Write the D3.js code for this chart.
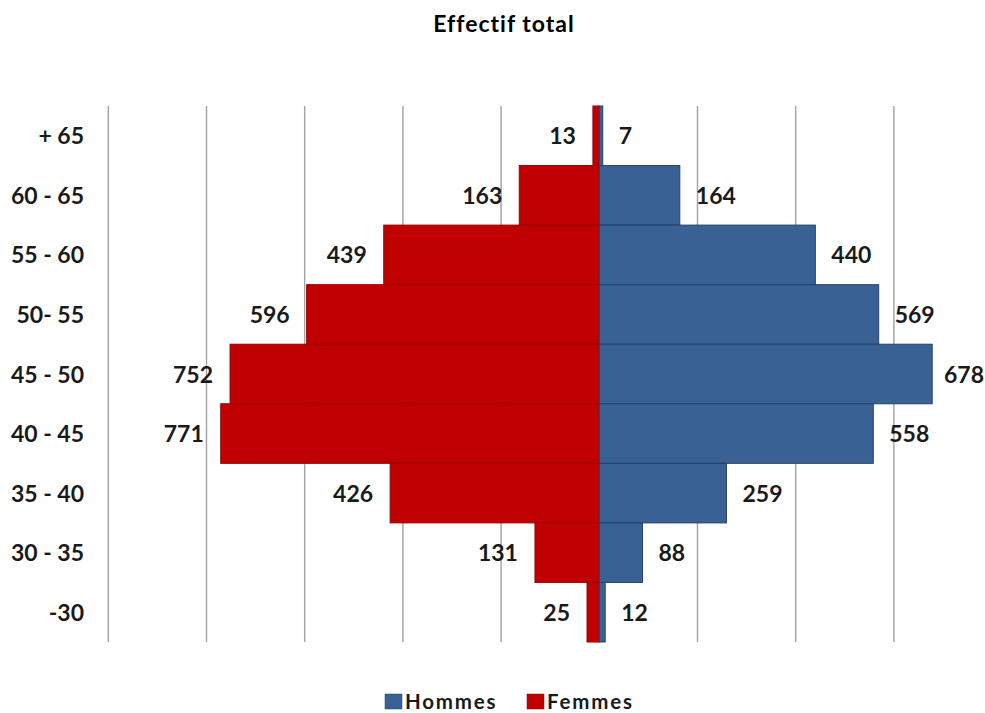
<!DOCTYPE html>
<html>
<head>
<meta charset="utf-8">
<script src="https://cdn.jsdelivr.net/npm/d3@7"></script>
<style>
  html, body { margin: 0; padding: 0; background: #fff; }
  svg { display: block; font-family: Lato, "Open Sans", sans-serif; }
</style>
</head>
<body>
<svg id="chart" width="985" height="713"></svg>
<script>
// Age bands, top to bottom
const ageGroups = ["+ 65", "60 - 65", "55 - 60", "50- 55", "45 - 50", "40 - 45", "35 - 40", "30 - 35", "-30"];
// Headcount per band
const hommes = [7, 164, 440, 569, 678, 558, 259, 88, 12];
const femmes = [13, 163, 439, 596, 752, 771, 426, 131, 25];
// Vertical gridline positions (signed: women to the left)
const gridTicks = [-1000, -800, -600, -400, -200, 0, 200, 400, 600, 800];
const seriesNames = ["Hommes", "Femmes"];

const colors = { Hommes: "#3A6194", Femmes: "#C00000" };
const strokes = { Hommes: "#23416A", Femmes: "#9A0000" };

const W = 985;
const svg = d3.select("#chart");

const x = d3.scaleLinear().domain([-1000, 1000]).range([108.3, 1090.3]);
const y = d3.scaleBand().domain(ageGroups).range([106, 642]).padding(0);

// Title
svg.append("text")
  .attr("x", 504).attr("y", 32)
  .attr("text-anchor", "middle")
  .attr("font-size", 23).attr("font-weight", 700)
  .attr("letter-spacing", 1)
  .attr("fill", "#000")
  .text("Effectif total");

// Gridlines
svg.append("g")
  .selectAll("line")
  .data(gridTicks)
  .join("line")
  .attr("x1", d => x(d)).attr("x2", d => x(d))
  .attr("y1", y.range()[0]).attr("y2", y.range()[1])
  .attr("stroke", "#A6A6A6").attr("stroke-width", 1.5);

// Bars
const rows = ageGroups.map((g, i) => ({ g, h: hommes[i], f: femmes[i] }));

svg.append("g").selectAll("rect")
  .data(rows)
  .join("rect")
  .attr("x", d => x(-d.f))
  .attr("y", d => y(d.g))
  .attr("width", d => x(0) - x(-d.f))
  .attr("height", y.bandwidth())
  .attr("fill", colors.Femmes)
  .attr("stroke", strokes.Femmes).attr("stroke-width", 1);

svg.append("g").selectAll("rect")
  .data(rows)
  .join("rect")
  .attr("x", x(0))
  .attr("y", d => y(d.g))
  .attr("width", d => x(d.h) - x(0))
  .attr("height", y.bandwidth())
  .attr("fill", colors.Hommes)
  .attr("stroke", strokes.Hommes).attr("stroke-width", 1);

// Value labels
const labelFont = 23;
const baselineShift = 8.5;
svg.append("g").selectAll("text")
  .data(rows)
  .join("text")
  .attr("x", d => x(-d.f) - 17)
  .attr("y", d => y(d.g) + y.bandwidth() / 2 + baselineShift)
  .attr("text-anchor", "end")
  .attr("font-size", labelFont).attr("font-weight", 700)
  .attr("fill", "#1a1a1a")
  .text(d => d.f);

svg.append("g").selectAll("text")
  .data(rows)
  .join("text")
  .attr("x", d => x(d.h) + 16)
  .attr("y", d => y(d.g) + y.bandwidth() / 2 + baselineShift)
  .attr("text-anchor", "start")
  .attr("font-size", labelFont).attr("font-weight", 700)
  .attr("fill", "#1a1a1a")
  .text(d => d.h)
  // keep labels inside the drawing area
  .each(function () {
    const w = this.getComputedTextLength();
    const x0 = +this.getAttribute("x");
    if (x0 + w > W - 1) this.setAttribute("x", W - 1 - w);
  });

// Category axis labels
const yAxis = d3.axisLeft(y).tickSize(0).tickPadding(0);
const gy = svg.append("g").attr("transform", "translate(84,0)").call(yAxis);
gy.select(".domain").remove();
gy.selectAll("text")
  .attr("dy", null)
  .attr("y", baselineShift)
  .attr("font-size", 23).attr("font-weight", 700)
  .attr("font-family", "Lato, 'Open Sans', sans-serif")
  .attr("fill", "#1a1a1a");

// Legend
const legend = svg.append("g");
const legendItems = [
  { name: seriesNames[0], x: 385 },
  { name: seriesNames[1], x: 527 }
];
const li = legend.selectAll("g").data(legendItems).join("g")
  .attr("transform", d => `translate(${d.x},694)`);
li.append("rect")
  .attr("width", 17).attr("height", 15)
  .attr("fill", d => colors[d.name])
  .attr("stroke", d => strokes[d.name]).attr("stroke-width", 0.5);
li.append("text")
  .attr("x", 20).attr("y", 15)
  .attr("font-size", 20.5).attr("font-weight", 700)
  .attr("letter-spacing", 1.8)
  .attr("fill", "#1a1a1a")
  .text(d => d.name);
</script>
</body>
</html>
